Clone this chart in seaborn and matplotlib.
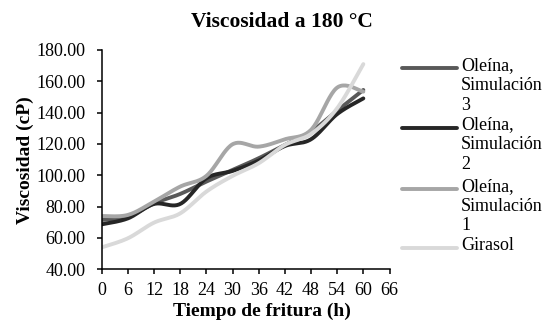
import numpy as np
import pandas as pd
import seaborn as sns
import matplotlib.pyplot as plt
from matplotlib.lines import Line2D
from matplotlib.ticker import FormatStrFormatter

# valores
horas = [0, 6, 12, 18, 24, 30, 36, 42, 48, 54, 60]
sim3 = [71.5, 73.6, 82.1, 88.1, 96.0, 103.4, 110.9, 119.4, 127.9, 141.3, 154.5]
sim2 = [68.7, 72.5, 81.7, 81.7, 98.1, 102.8, 109.4, 118.7, 123.0, 139.1, 149.1]
sim1 = [74.0, 74.7, 83.2, 92.8, 99.6, 119.8, 118.3, 123.0, 129.0, 156.0, 153.4]
girasol = [54.0, 59.8, 69.8, 75.7, 89.6, 99.6, 107.7, 119.4, 126.4, 142.8, 171.0]

nombres = ['Oleína,\nSimulación\n3', 'Oleína,\nSimulación\n2', 'Oleína,\nSimulación\n1', 'Girasol']
colores = ['#595959', '#262626', '#a6a6a6', '#d9d9d9']
series = [sim3, sim2, sim1, girasol]


def suavizar(x, y, n=24):
    # curva tipo Catmull-Rom, como la linea suavizada de Excel
    x = np.asarray(x, float)
    y = np.asarray(y, float)
    px = np.concatenate([[x[0]], x, [x[-1]]])
    py = np.concatenate([[y[0]], y, [y[-1]]])
    t = np.linspace(0, 1, n, endpoint=False)
    xs, ys = [], []
    for i in range(1, len(px) - 2):
        for p, out in ((px, xs), (py, ys)):
            p0, p1, p2, p3 = p[i - 1], p[i], p[i + 1], p[i + 2]
            out.append(0.5 * (2 * p1 + (-p0 + p2) * t
                              + (2 * p0 - 5 * p1 + 4 * p2 - p3) * t ** 2
                              + (-p0 + 3 * p1 - 3 * p2 + p3) * t ** 3))
    xs.append([x[-1]])
    ys.append([y[-1]])
    return np.concatenate(xs), np.concatenate(ys)


sns.set_style('ticks')
plt.rcParams['font.family'] = ['Liberation Serif', 'DejaVu Serif']
plt.rcParams['text.color'] = 'black'
plt.rcParams['axes.labelcolor'] = 'black'

fig = plt.figure(figsize=(5.46, 3.22), dpi=100)
ax = fig.add_axes([101.7 / 546, 1 - 269.3 / 322, (389.5 - 101.7) / 546, (269.3 - 50) / 322])

for vals, col in zip(series, colores):
    xs, ys = suavizar(horas, vals)
    df = pd.DataFrame({'x': xs, 'y': ys})
    sns.lineplot(data=df, x='x', y='y', sort=False, color=col, lw=2.8, ax=ax)

ax.set_xlim(0, 66)
ax.set_ylim(40, 180)
ax.set_xticks(range(0, 67, 6))
ax.set_yticks(range(40, 181, 20))
ax.yaxis.set_major_formatter(FormatStrFormatter('%.2f'))
sns.despine(ax=ax)
for s in ['left', 'bottom']:
    ax.spines[s].set_color('black')
    ax.spines[s].set_linewidth(1.1)
ax.tick_params(direction='out', length=3.8, width=1.1, color='black', labelsize=13, labelcolor='black')
ax.tick_params(axis='y', pad=8)
ax.tick_params(axis='x', pad=5)
ax.set_xlabel('Tiempo de fritura (h)', fontsize=14, fontweight='bold')
ax.set_ylabel('Viscosidad (cP)', fontsize=14, fontweight='bold')
ax.xaxis.set_label_coords((262 - 101.7) / 287.8, (269.3 - 303) / 219.3)
ax.yaxis.set_label_coords((34 - 101.7) / 287.8, 0.5)

fig.text(282 / 546, 1 - 22 / 322, 'Viscosidad a 180 °C', fontsize=15.5, fontweight='bold',
         ha='center', va='center')

# leyenda a mano (texto en varias lineas con la linea junto a la primera)
ley_y = [68.3, 127.5, 189.0, 248.3]
for yy, nom, col in zip(ley_y, nombres, colores):
    fy = 1 - yy / 322
    fig.add_artist(Line2D([402 / 546, 457 / 546], [fy, fy], color=col, lw=2.8,
                          transform=fig.transFigure))
    fig.text(461 / 546, 1 - (yy - 11) / 322, nom, fontsize=13, ha='left', va='top',
             linespacing=1.2)

fig.savefig('out.png', dpi=100)
